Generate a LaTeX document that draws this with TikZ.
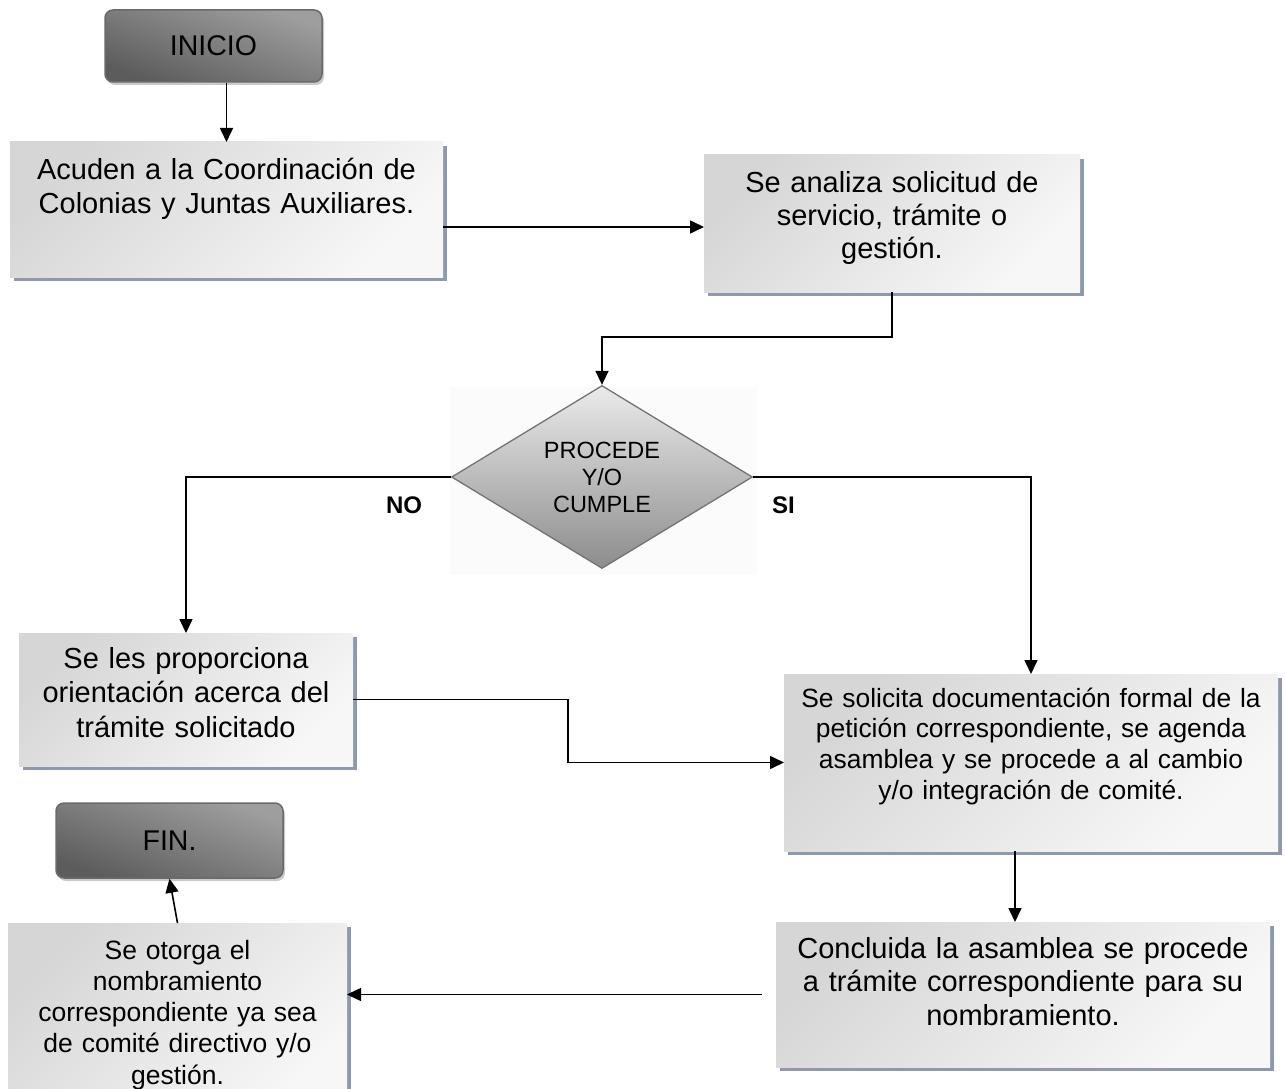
\documentclass[tikz,border=0pt]{standalone}
\usepackage{fontspec}
\setmainfont{Liberation Sans}
\usepackage{tikz}
\usetikzlibrary{arrows.meta,shapes,shadows,calc,positioning}
\definecolor{sombra}{HTML}{8E9AAB}
\definecolor{borde}{HTML}{6A6A6A}

\begin{document}
\begin{tikzpicture}[x=1pt, y=-1pt, >={Triangle[length=14pt,width=13pt]}, line width=1.6pt,
    paso/.style={rectangle, inner sep=0pt, align=center, line width=0pt,
      top color=black!16, bottom color=black!3, shading angle=45,
      drop shadow={shadow xshift=4pt, shadow yshift=-4pt, fill=sombra, opacity=1}},
    terminal/.style={rectangle, rounded corners=8pt, draw=borde, line width=1.5pt,
      top color=black!38, middle color=black!24, bottom color=black!64, shading angle=-20,
      font=\fontsize{28.5}{33}\selectfont,
      drop shadow={shadow xshift=2pt, shadow yshift=-3pt, fill=black!35, opacity=0.6}},
    etiqueta/.style={font=\bfseries\fontsize{24}{28}\selectfont}]
    \useasboundingbox (0,0) rectangle (1286,1089);

    \node[terminal, minimum width=217pt, minimum height=72pt] (inicio) at (213.5,46) {INICIO};
    \node[paso, text width=433pt, text height=38pt, text depth=97pt, font=\fontsize{29}{33}\selectfont] (caja1) at (226.5,209.5) {Acuden a la Coordinación de\\Colonias y Juntas Auxiliares.};
    \node[paso, text width=376pt, text height=38pt, text depth=99pt, font=\fontsize{29}{33}\selectfont] (caja2) at (892,223.5) {Se analiza solicitud de\\servicio, trámite o\\gestión.};

    \fill[black!1.5] (450,387) rectangle (757,575);
    \node[diamond, aspect=1.645, minimum width=301pt, minimum height=183pt, inner sep=0pt, align=center,
      draw=black!55, line width=1.3pt, top color=black!8, bottom color=black!45,
      font=\fontsize{23.5}{27}\selectfont] (decision) at (602,477) {PROCEDE\\Y/O\\CUMPLE};
    \node[etiqueta] (no) at (404,505) {NO};
    \node[etiqueta] (si) at (783.5,505) {SI};

    \node[paso, text width=334pt, text height=35pt, text depth=98pt, font=\fontsize{29}{34.5}\selectfont] (caja3) at (186,699.5) {Se les proporciona\\orientación acerca del\\trámite solicitado};
    \node[paso, text width=494pt, text height=33pt, text depth=144pt, font=\fontsize{26.4}{30.7}\selectfont] (caja4) at (1031,762.5) {Se solicita documentación formal de la\\petición correspondiente, se agenda\\asamblea y se procede a al cambio\\y/o integración de comité.};
    \node[paso, text width=494pt, text height=36pt, text depth=109pt, font=\fontsize{29}{33.5}\selectfont] (caja5) at (1023,994.5) {Concluida la asamblea se procede\\a trámite correspondiente para su\\nombramiento.};
    \node[terminal, minimum width=227pt, minimum height=75pt] (fin) at (169.5,840.5) {FIN.};
    \node[paso, text width=339pt, text height=36pt, text depth=156pt, font=\fontsize{26.5}{31.3}\selectfont] (caja6) at (177.5,1019) {Se otorga el\\nombramiento\\correspondiente ya sea\\de comité directivo y/o\\gestión.};

    \coordinate (a1) at ([yshift=-17.5pt]caja1.east);
    \coordinate (a4) at ([xshift=-16pt]caja4.south);

    \draw[->] (inicio.south -| caja1.north) -- (caja1.north);
    \draw[->] (a1) -- (a1 -| caja2.west);
    \draw[->] (caja2.south) -- ++(0,45) -| (decision.north);
    \draw[->] (decision.west) -| (caja3.north);
    \draw[->] (decision.east) -| (caja4.north);
    \draw[->] (caja3.east) -- ++(215,0) |- (caja4.west);
    \draw[->] (a4) -- (a4 |- caja5.north);
    \draw[->, shorten <=14pt] (caja5.west) -- (caja5.west -| caja6.east);
    \draw[->] (caja6.north) -- (fin.south);
  \end{tikzpicture}
\end{document}
